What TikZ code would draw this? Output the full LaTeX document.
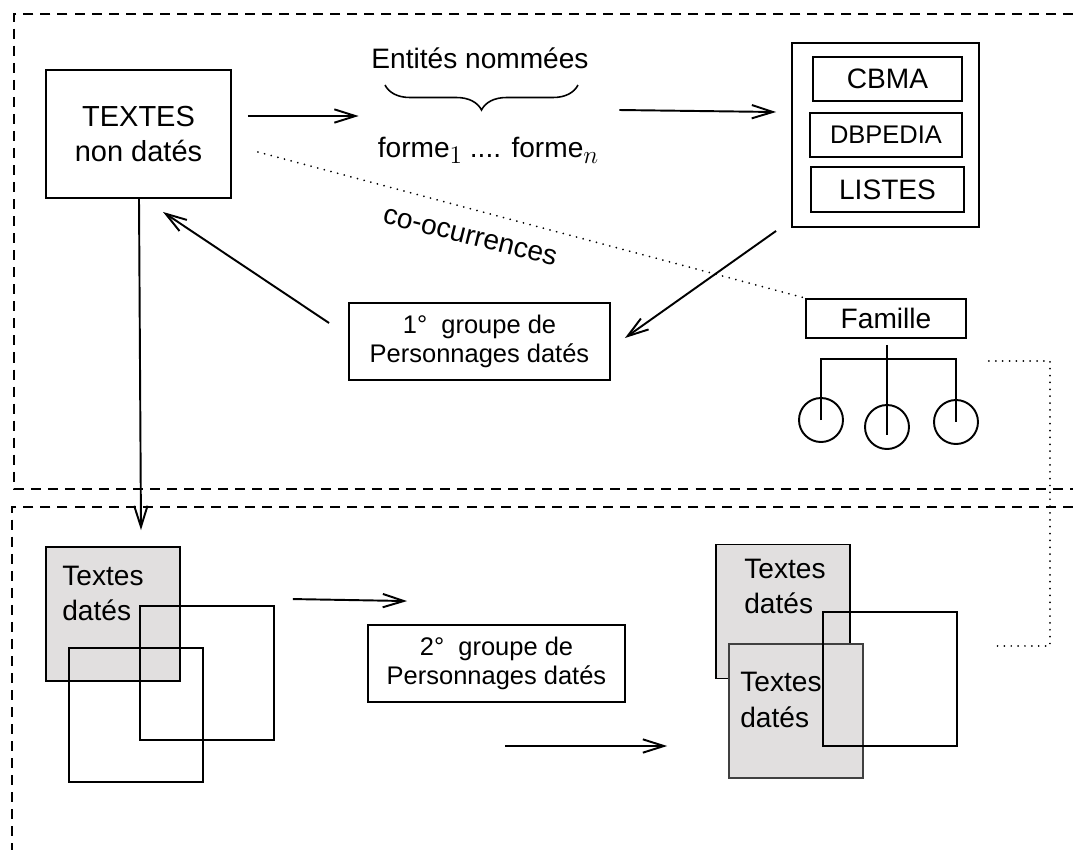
\documentclass[tikz,border=0pt]{standalone}
\usepackage{fontspec}
\setmainfont{Liberation Sans}
\usetikzlibrary{arrows.meta,decorations.pathreplacing,calc}
\definecolor{boxgray}{RGB}{225,223,223}
\newcommand\bigsz{\fontsize{16.5}{20.4}\selectfont}
\newcommand\mainsz{\fontsize{16}{20}\selectfont}
\newcommand\smallsz{\fontsize{14.5}{16.5}\selectfont}
\newcommand\mysub[1]{\raisebox{-0.22em}{\fontsize{14}{14}\selectfont$#1$}}
\begin{document}
\begin{tikzpicture}[x=0.02cm,y=-0.02cm,
  lw/.style={line width=1.1pt},
  box/.style={draw,lw,inner sep=0pt,align=center,font=\mainsz},
  circ/.style={draw,lw,circle,minimum size=0.88cm,inner sep=0pt},
  gbox/.style={draw,lw,fill=boxgray,minimum size=2.68cm,inner sep=0pt},
  sq/.style={draw,lw,minimum size=2.68cm,inner sep=0pt},
  txt/.style={font=\mainsz,align=left,anchor=west,inner sep=0pt},
  arr/.style={lw,-{Straight Barb[length=12pt,width=7.6pt]}},
  dotline/.style={line width=1.1pt,line cap=round,dash pattern=on 0.01pt off 3.9pt},
  dashframe/.style={line width=1.1pt,dash pattern=on 5.7pt off 4pt}]
\useasboundingbox (0,0) rectangle (1073,850);

% frames
\draw[dashframe] (1073,14) -- (14,14) -- (14,489) -- (1073,489);
\draw[dashframe] (1073,507) -- (12,507) -- (12,850);

% top part
\node[box,minimum width=3.7cm,minimum height=2.56cm,font=\bigsz] (textes) at (138.5,134) {TEXTES\\non datés};
\node[font=\mainsz] (entites) at (480,58) {Entités nommées};
\node[font=\mainsz] (formes) at (488,150) {forme\mysub{1} .... forme\mysub{n}};
\coordinate (brl) at (385,85);
\coordinate (brr) at (578,85);
\draw[line width=0.9pt,decorate,decoration={brace,mirror,amplitude=0.5cm}] (brl) -- (brr);

\node[box,minimum width=3.74cm,minimum height=3.68cm] (db) at (885.5,135) {};
\node[box,minimum width=2.98cm,minimum height=0.88cm] (cbma) at (887.5,79) {CBMA};
\node[box,minimum width=3.04cm,minimum height=0.88cm,font=\smallsz] (dbp) at (886,135) {DBPEDIA};
\node[box,minimum width=3.06cm,minimum height=0.9cm] (listes) at (887.5,189.5) {LISTES};

\node[box,minimum width=5.22cm,minimum height=1.54cm,font=\smallsz] (g1) at (479.5,341.5) {1°\ \ groupe de\\Personnages datés};
\node[box,minimum width=3.2cm,minimum height=0.78cm] (fam) at (886,318.5) {Famille};
\node[font=\mainsz,rotate=-14] (cooc) at (470,237) {co-ocurrences};

% family tree
\node[circ] (c1) at (821,420) {};
\node[circ] (c2) at (887,427) {};
\node[circ] (c3) at (956,422) {};
\coordinate (hbar) at (887,359);
\draw[lw] ($(fam.south)+(1,6)$) -- ($(c2.center)+(0,8)$);
\draw[lw] (c1.center) -- (c1.center |- hbar) -- (c3.center |- hbar) -- (c3.center);

% connectors top
\draw[arr] ($(textes.east)+(16,-18)$) -- ($(formes.west)+(-13,-34)$);
\draw[arr] ($(formes.east)+(15,-40)$) -- ($(db.west)+(-15,-23)$);
\draw[arr] ($(db.south west)+(-15,3)$) -- ($(g1.east)+(14,-3.5)$);
\draw[arr] ($(g1.west)+(-19,-18.5)$) -- ($(textes.south)+(24.5,13)$);
\draw[dotline] ($(textes.east)+(26,18)$) -- (fam.north west);

% bottom part
\node[gbox] (gL) at (113,614) {};
\node[txt] (tL) at (62,593.5) {Textes\\datés};
\node[sq] (sqL2) at (207,673) {};
\node[sq] (sqL3) at (136,715) {};

\node[box,minimum width=5.14cm,minimum height=1.54cm,font=\smallsz] (g2) at (496.5,663.5) {2°\ \ groupe de\\Personnages datés};

\node[gbox] (gA) at (783,611.5) {};
\node[txt] (tA) at (744,586.5) {Textes\\datés};
\node[gbox,draw=black!75,line width=1pt] (gB) at (796,711) {};
\node[txt] (tB) at (740,700) {Textes\\datés};
\node[sq] (sqC) at (890,679) {};

% connectors bottom
\draw[arr] ($(textes.south)+(0.5,0)$) -- ($(gL.north)+(28,-16)$);
\draw[arr] ($(sqL2.north east)+(18,-6)$) -- ($(g2.north west)+(40,-23)$);
\draw[arr] ($(g2.south)+(8.5,43)$) -- ($(gB.west)+(-61,35)$);
\draw[dotline] ($(fam.east)+(22,42.5)$) -| ($(sqC.east)+(92,-33)$) -- ($(sqC.east)+(36,-33)$);
\end{tikzpicture}
\end{document}
